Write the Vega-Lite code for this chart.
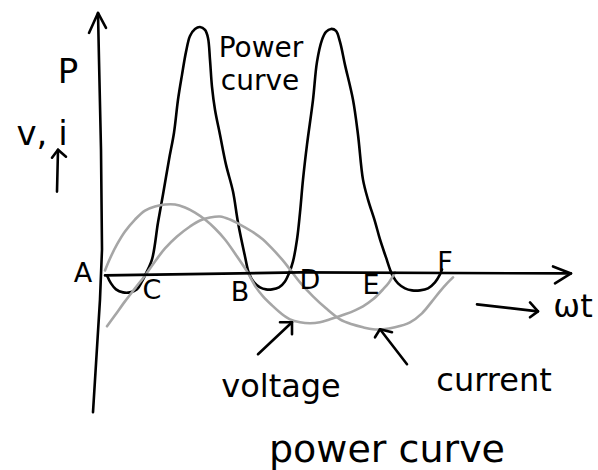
{
  "$schema": "https://vega.github.io/schema/vega-lite/v6.json",
  "width": 598,
  "height": 470,
  "padding": 0,
  "autosize": {"type": "fit", "contains": "padding"},
  "background": "white",
  "config": {"view": {"stroke": null}},
  "datasets": {
    "curves": [
      {"s": "power", "x": 2, "y": -1}, {"s": "power", "x": 6, "y": -9}, {"s": "power", "x": 11, "y": -15}, {"s": "power", "x": 18, "y": -18}, {"s": "power", "x": 25, "y": -18}, {"s": "power", "x": 32, "y": -15}, {"s": "power", "x": 37, "y": -7},
      {"s": "power", "x": 40, "y": -1}, {"s": "power", "x": 47, "y": 15}, {"s": "power", "x": 53, "y": 52}, {"s": "power", "x": 58, "y": 80}, {"s": "power", "x": 64, "y": 115}, {"s": "power", "x": 69, "y": 142}, {"s": "power", "x": 73, "y": 175}, {"s": "power", "x": 77, "y": 200}, {"s": "power", "x": 81, "y": 223}, {"s": "power", "x": 85, "y": 239}, {"s": "power", "x": 90, "y": 246}, {"s": "power", "x": 95, "y": 248}, {"s": "power", "x": 100, "y": 245}, {"s": "power", "x": 103, "y": 237}, {"s": "power", "x": 105, "y": 215}, {"s": "power", "x": 107, "y": 188}, {"s": "power", "x": 110, "y": 165}, {"s": "power", "x": 115, "y": 140}, {"s": "power", "x": 121, "y": 110}, {"s": "power", "x": 128, "y": 83}, {"s": "power", "x": 133, "y": 52}, {"s": "power", "x": 140, "y": 18}, {"s": "power", "x": 144, "y": 1},
      {"s": "power", "x": 149, "y": -8}, {"s": "power", "x": 155, "y": -13}, {"s": "power", "x": 161, "y": -15}, {"s": "power", "x": 167, "y": -15}, {"s": "power", "x": 174, "y": -13}, {"s": "power", "x": 180, "y": -7}, {"s": "power", "x": 184, "y": 1},
      {"s": "power", "x": 188, "y": 13}, {"s": "power", "x": 192, "y": 35}, {"s": "power", "x": 195, "y": 62}, {"s": "power", "x": 198, "y": 95}, {"s": "power", "x": 202, "y": 130}, {"s": "power", "x": 208, "y": 175}, {"s": "power", "x": 212, "y": 213}, {"s": "power", "x": 217, "y": 235}, {"s": "power", "x": 221, "y": 243}, {"s": "power", "x": 226, "y": 246}, {"s": "power", "x": 231, "y": 244}, {"s": "power", "x": 235, "y": 233}, {"s": "power", "x": 240, "y": 210}, {"s": "power", "x": 248, "y": 175}, {"s": "power", "x": 253, "y": 140}, {"s": "power", "x": 258, "y": 95}, {"s": "power", "x": 263, "y": 75}, {"s": "power", "x": 270, "y": 53}, {"s": "power", "x": 275, "y": 35}, {"s": "power", "x": 281, "y": 17}, {"s": "power", "x": 285, "y": 5}, {"s": "power", "x": 288, "y": -2},
      {"s": "power", "x": 293, "y": -9}, {"s": "power", "x": 300, "y": -14}, {"s": "power", "x": 307, "y": -16}, {"s": "power", "x": 315, "y": -16}, {"s": "power", "x": 323, "y": -14}, {"s": "power", "x": 330, "y": -8}, {"s": "power", "x": 335, "y": 0}, {"s": "power", "x": 337, "y": 5},
      {"s": "voltage", "x": 0, "y": 4}, {"s": "voltage", "x": 5, "y": 16}, {"s": "voltage", "x": 12, "y": 30}, {"s": "voltage", "x": 20, "y": 43}, {"s": "voltage", "x": 30, "y": 55}, {"s": "voltage", "x": 40, "y": 64}, {"s": "voltage", "x": 50, "y": 68}, {"s": "voltage", "x": 60, "y": 70}, {"s": "voltage", "x": 70, "y": 70}, {"s": "voltage", "x": 80, "y": 67}, {"s": "voltage", "x": 90, "y": 62}, {"s": "voltage", "x": 100, "y": 55}, {"s": "voltage", "x": 110, "y": 46}, {"s": "voltage", "x": 120, "y": 35}, {"s": "voltage", "x": 130, "y": 21}, {"s": "voltage", "x": 142, "y": 3}, {"s": "voltage", "x": 151, "y": -13}, {"s": "voltage", "x": 158, "y": -22}, {"s": "voltage", "x": 167, "y": -31}, {"s": "voltage", "x": 176, "y": -39}, {"s": "voltage", "x": 185, "y": -45}, {"s": "voltage", "x": 195, "y": -48}, {"s": "voltage", "x": 205, "y": -49}, {"s": "voltage", "x": 215, "y": -48}, {"s": "voltage", "x": 225, "y": -45}, {"s": "voltage", "x": 240, "y": -40}, {"s": "voltage", "x": 250, "y": -36}, {"s": "voltage", "x": 258, "y": -32}, {"s": "voltage", "x": 268, "y": -25}, {"s": "voltage", "x": 278, "y": -15}, {"s": "voltage", "x": 284, "y": -8}, {"s": "voltage", "x": 290, "y": 2},
      {"s": "current", "x": 2, "y": -52}, {"s": "current", "x": 10, "y": -41}, {"s": "current", "x": 20, "y": -27}, {"s": "current", "x": 30, "y": -14}, {"s": "current", "x": 40, "y": -1}, {"s": "current", "x": 50, "y": 13}, {"s": "current", "x": 60, "y": 26}, {"s": "current", "x": 72, "y": 38}, {"s": "current", "x": 85, "y": 48}, {"s": "current", "x": 95, "y": 54}, {"s": "current", "x": 105, "y": 57}, {"s": "current", "x": 115, "y": 58}, {"s": "current", "x": 125, "y": 55}, {"s": "current", "x": 135, "y": 50}, {"s": "current", "x": 147, "y": 43}, {"s": "current", "x": 158, "y": 35}, {"s": "current", "x": 167, "y": 26}, {"s": "current", "x": 177, "y": 15}, {"s": "current", "x": 185, "y": 5}, {"s": "current", "x": 195, "y": -8}, {"s": "current", "x": 208, "y": -22}, {"s": "current", "x": 221, "y": -34}, {"s": "current", "x": 235, "y": -45}, {"s": "current", "x": 247, "y": -50}, {"s": "current", "x": 258, "y": -53}, {"s": "current", "x": 268, "y": -55}, {"s": "current", "x": 278, "y": -55}, {"s": "current", "x": 290, "y": -53}, {"s": "current", "x": 305, "y": -48}, {"s": "current", "x": 317, "y": -39}, {"s": "current", "x": 327, "y": -27}, {"s": "current", "x": 335, "y": -17}, {"s": "current", "x": 342, "y": -9}, {"s": "current", "x": 348, "y": -3}
    ],
    "strokes": [
      {"s": "yaxis", "i": 0, "x": -12, "y": -138}, {"s": "yaxis", "i": 1, "x": -5, "y": -25}, {"s": "yaxis", "i": 2, "x": -3, "y": 25}, {"s": "yaxis", "i": 3, "x": -4, "y": 125}, {"s": "yaxis", "i": 4, "x": -6, "y": 215}, {"s": "yaxis", "i": 5, "x": -7, "y": 262},
      {"s": "yhead", "i": 0, "x": -16, "y": 242}, {"s": "yhead", "i": 1, "x": -7, "y": 262}, {"s": "yhead", "i": 2, "x": 1, "y": 247},
      {"s": "xaxis", "i": 0, "x": 0, "y": -1}, {"s": "xaxis", "i": 1, "x": 195, "y": 2}, {"s": "xaxis", "i": 2, "x": 466, "y": 1},
      {"s": "xhead", "i": 0, "x": 448, "y": 8}, {"s": "xhead", "i": 1, "x": 466, "y": 1}, {"s": "xhead", "i": 2, "x": 450, "y": -9},
      {"s": "wt", "i": 0, "x": 372, "y": -30}, {"s": "wt", "i": 1, "x": 433, "y": -37},
      {"s": "wthead", "i": 0, "x": 425, "y": -28}, {"s": "wthead", "i": 1, "x": 433, "y": -37}, {"s": "wthead", "i": 2, "x": 425, "y": -43},
      {"s": "varrow", "i": 0, "x": 153, "y": -80}, {"s": "varrow", "i": 1, "x": 187, "y": -48},
      {"s": "vhead", "i": 0, "x": 175, "y": -48}, {"s": "vhead", "i": 1, "x": 187, "y": -48}, {"s": "vhead", "i": 2, "x": 187, "y": -60},
      {"s": "carrow", "i": 0, "x": 302, "y": -90}, {"s": "carrow", "i": 1, "x": 275, "y": -55},
      {"s": "chead", "i": 0, "x": 270, "y": -63}, {"s": "chead", "i": 1, "x": 275, "y": -55}, {"s": "chead", "i": 2, "x": 287, "y": -58},
      {"s": "viarrow", "i": 0, "x": -48, "y": 83}, {"s": "viarrow", "i": 1, "x": -47, "y": 125},
      {"s": "vihead", "i": 0, "x": -53, "y": 117}, {"s": "vihead", "i": 1, "x": -47, "y": 125}, {"s": "vihead", "i": 2, "x": -39, "y": 118}
    ],
    "labels": [
      {"t": "P", "kind": "axis", "x": -37, "y": 192},
      {"t": "v, i", "kind": "axis", "x": -63, "y": 130},
      {"t": "A", "kind": "pt", "x": -22, "y": -8},
      {"t": "C", "kind": "pt", "x": 47, "y": -25},
      {"t": "B", "kind": "pt", "x": 135, "y": -27},
      {"t": "D", "kind": "pt", "x": 205, "y": -15},
      {"t": "E", "kind": "pt", "x": 266, "y": -20},
      {"t": "F", "kind": "pt", "x": 340, "y": 3},
      {"t": "Power", "kind": "note", "x": 156, "y": 218},
      {"t": "curve", "kind": "note", "x": 155, "y": 185},
      {"t": "ωt", "kind": "label", "x": 468, "y": -43},
      {"t": "voltage", "kind": "label", "x": 176, "y": -123},
      {"t": "current", "kind": "label", "x": 389, "y": -117},
      {"t": "power curve", "kind": "title", "x": 282, "y": -188}
    ]
  },
  "encoding": {
    "x": {"field": "x", "type": "quantitative", "scale": {"domain": [-105, 493], "nice": false, "zero": false}, "axis": null},
    "y": {"field": "y", "type": "quantitative", "scale": {"domain": [-195, 275], "nice": false, "zero": false}, "axis": null}
  },
  "layer": [
    {
      "data": {"name": "curves"},
      "mark": {"type": "line", "interpolate": "catmull-rom", "strokeWidth": 2.6, "strokeCap": "round", "strokeJoin": "round"},
      "encoding": {
        "detail": {"field": "s", "type": "nominal"},
        "color": {"field": "s", "type": "nominal", "scale": {"domain": ["power", "voltage", "current"], "range": ["#000000", "#a6a6a6", "#a6a6a6"]}, "legend": null}
      }
    },
    {
      "data": {"name": "strokes"},
      "mark": {"type": "line", "color": "#000000", "strokeWidth": 2.6, "strokeCap": "round", "strokeJoin": "round"},
      "encoding": {
        "detail": {"field": "s", "type": "nominal"},
        "order": {"field": "i", "type": "quantitative"}
      }
    },
    {
      "data": {"name": "labels"},
      "transform": [{"filter": "datum.kind == 'axis'"}],
      "mark": {"type": "text", "font": "DejaVu Sans", "fontSize": 34, "align": "center", "baseline": "alphabetic", "color": "#000000"},
      "encoding": {"text": {"field": "t", "type": "nominal"}}
    },
    {
      "data": {"name": "labels"},
      "transform": [{"filter": "datum.kind == 'pt'"}],
      "mark": {"type": "text", "font": "DejaVu Sans", "fontSize": 27, "align": "center", "baseline": "alphabetic", "color": "#000000"},
      "encoding": {"text": {"field": "t", "type": "nominal"}}
    },
    {
      "data": {"name": "labels"},
      "transform": [{"filter": "datum.kind == 'note'"}],
      "mark": {"type": "text", "font": "DejaVu Sans", "fontSize": 28, "align": "center", "baseline": "alphabetic", "color": "#000000"},
      "encoding": {"text": {"field": "t", "type": "nominal"}}
    },
    {
      "data": {"name": "labels"},
      "transform": [{"filter": "datum.kind == 'label'"}],
      "mark": {"type": "text", "font": "DejaVu Sans", "fontSize": 32, "align": "center", "baseline": "alphabetic", "color": "#000000"},
      "encoding": {"text": {"field": "t", "type": "nominal"}}
    },
    {
      "data": {"name": "labels"},
      "transform": [{"filter": "datum.kind == 'title'"}],
      "mark": {"type": "text", "font": "DejaVu Sans", "fontSize": 38, "align": "center", "baseline": "alphabetic", "color": "#000000"},
      "encoding": {"text": {"field": "t", "type": "nominal"}}
    }
  ]
}
